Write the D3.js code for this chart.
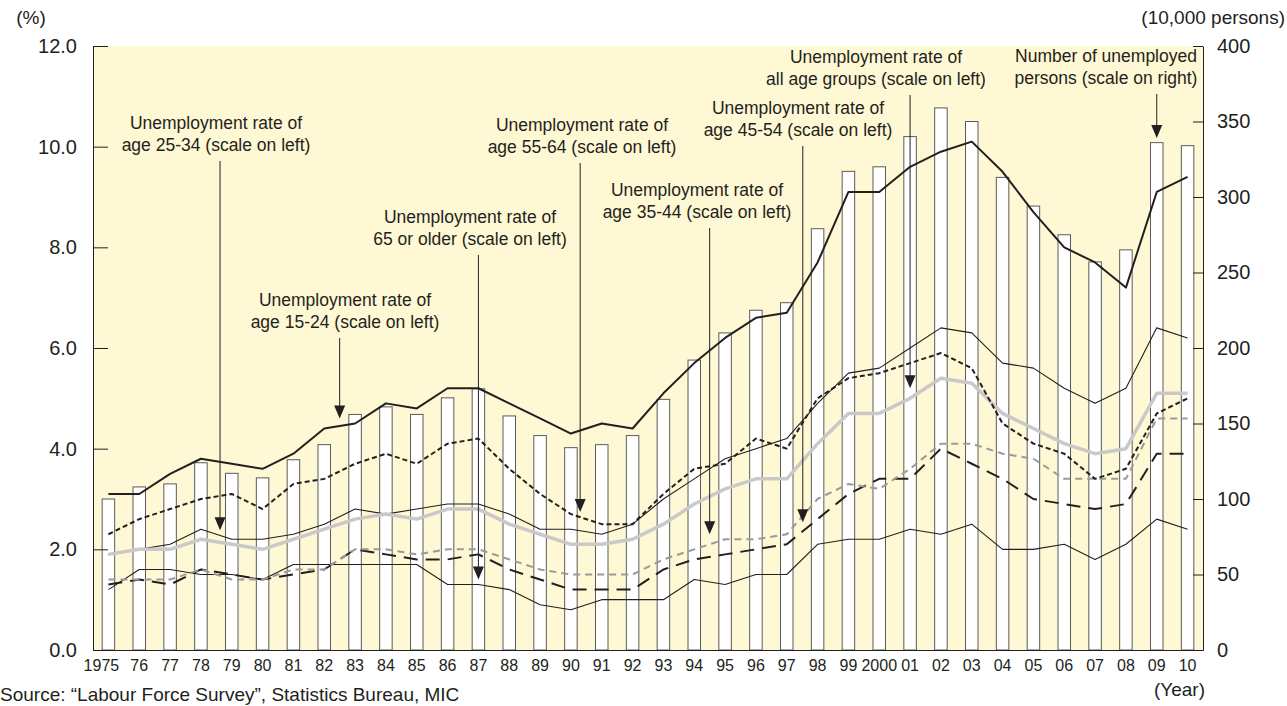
<!DOCTYPE html>
<html>
<head>
<meta charset="utf-8">
<script src="https://cdn.jsdelivr.net/npm/d3@7"></script>
<style>
  body { margin: 0; background: #fff; }
  svg { display: block; font-family: "Liberation Sans", Arial, Helvetica, sans-serif; }
  text { fill: #231f20; }
</style>
</head>
<body>
<svg id="chart" width="1287" height="706"></svg>
<script>
// data
const years = d3.range(1975, 2011);
const yearLabels = ['1975', '76', '77', '78', '79', '80', '81', '82', '83', '84', '85', '86', '87', '88', '89',
  '90', '91', '92', '93', '94', '95', '96', '97', '98', '99', '2000', '01', '02', '03', '04', '05', '06', '07',
  '08', '09', '10'];

// number of unemployed persons, 10,000 persons (right scale)
const unemployed = [100, 108, 110, 124, 117, 114, 126, 136, 156, 161, 156, 167, 173, 155, 142, 134, 136, 142,
  166, 192, 210, 225, 230, 279, 317, 320, 340, 359, 350, 313, 294, 275, 257, 265, 336, 334];

// unemployment rates, % (left scale)
const rateAll = [1.9, 2.0, 2.0, 2.2, 2.1, 2.0, 2.2, 2.4, 2.6, 2.7, 2.6, 2.8, 2.8, 2.5, 2.3, 2.1, 2.1, 2.2,
  2.5, 2.9, 3.2, 3.4, 3.4, 4.1, 4.7, 4.7, 5.0, 5.4, 5.3, 4.7, 4.4, 4.1, 3.9, 4.0, 5.1, 5.1];
const rate15to24 = [3.1, 3.1, 3.5, 3.8, 3.7, 3.6, 3.9, 4.4, 4.5, 4.9, 4.8, 5.2, 5.2, 4.9, 4.6, 4.3, 4.5, 4.4,
  5.1, 5.7, 6.2, 6.6, 6.7, 7.7, 9.1, 9.1, 9.6, 9.9, 10.1, 9.5, 8.7, 8.0, 7.7, 7.2, 9.1, 9.4];
const rate25to34 = [1.9, 2.0, 2.1, 2.4, 2.2, 2.2, 2.3, 2.5, 2.8, 2.7, 2.8, 2.9, 2.9, 2.7, 2.4, 2.4, 2.3, 2.5,
  3.0, 3.4, 3.8, 4.0, 4.2, 4.9, 5.5, 5.6, 6.0, 6.4, 6.3, 5.7, 5.6, 5.2, 4.9, 5.2, 6.4, 6.2];
const rate35to44 = [1.4, 1.4, 1.4, 1.6, 1.4, 1.4, 1.6, 1.6, 2.0, 2.0, 1.9, 2.0, 2.0, 1.8, 1.6, 1.5, 1.5, 1.5,
  1.8, 2.0, 2.2, 2.2, 2.3, 3.0, 3.3, 3.2, 3.6, 4.1, 4.1, 3.9, 3.8, 3.4, 3.4, 3.4, 4.6, 4.6];
const rate45to54 = [1.3, 1.4, 1.3, 1.6, 1.5, 1.4, 1.5, 1.6, 2.0, 1.9, 1.8, 1.8, 1.9, 1.6, 1.4, 1.2, 1.2, 1.2,
  1.6, 1.8, 1.9, 2.0, 2.1, 2.6, 3.1, 3.4, 3.4, 4.0, 3.7, 3.4, 3.0, 2.9, 2.8, 2.9, 3.9, 3.9];
const rate55to64 = [2.3, 2.6, 2.8, 3.0, 3.1, 2.8, 3.3, 3.4, 3.7, 3.9, 3.7, 4.1, 4.2, 3.6, 3.1, 2.7, 2.5, 2.5,
  3.1, 3.6, 3.7, 4.2, 4.0, 5.0, 5.4, 5.5, 5.7, 5.9, 5.6, 4.5, 4.1, 3.9, 3.4, 3.6, 4.7, 5.0];
const rate65plus = [1.2, 1.6, 1.6, 1.5, 1.5, 1.4, 1.7, 1.7, 1.7, 1.7, 1.7, 1.3, 1.3, 1.2, 0.9, 0.8, 1.0, 1.0,
  1.0, 1.4, 1.3, 1.5, 1.5, 2.1, 2.2, 2.2, 2.4, 2.3, 2.5, 2.0, 2.0, 2.1, 1.8, 2.1, 2.6, 2.4];

const leftTicks = [0, 2, 4, 6, 8, 10, 12];
const rightTicks = [0, 50, 100, 150, 200, 250, 300, 350, 400];

const plotLeft = 93, plotRight = 1203, plotTop = 46, plotBottom = 650;

const svg = d3.select('#chart');

const x = d3.scaleBand()
  .domain(years)
  .range([plotLeft, plotRight])
  .padding(0);
const xCenter = yr => x(yr) + x.bandwidth() / 2;
// fractional year position, for the pointer arrows
const xAt = yr => xCenter(years[0]) + (yr - years[0]) * x.step();

const yRate = d3.scaleLinear().domain([0, 12]).range([plotBottom, plotTop]);
const yCount = d3.scaleLinear().domain([0, 400]).range([plotBottom, plotTop]);

const barWidth = 12.5;

// plot background
svg.append('rect')
  .attr('x', plotLeft)
  .attr('y', plotTop)
  .attr('width', plotRight - plotLeft)
  .attr('height', plotBottom - plotTop)
  .attr('fill', '#fff8d4');

// bars
svg.append('g')
  .selectAll('rect')
  .data(unemployed)
  .join('rect')
  .attr('x', (d, i) => xCenter(years[i]) - barWidth / 2)
  .attr('y', d => yCount(d))
  .attr('width', barWidth)
  .attr('height', d => plotBottom - yCount(d))
  .attr('fill', '#fff')
  .attr('stroke', '#5a5a5a')
  .attr('stroke-width', 1);

// rate lines, drawn bottom to top
const series = [
  { values: rate65plus, color: '#231f20', width: 1.1, dash: null },
  { values: rate45to54, color: '#231f20', width: 2, dash: '14,8' },
  { values: rate35to44, color: '#9a9a9a', width: 2, dash: '7,5' },
  { values: rate25to34, color: '#231f20', width: 1.1, dash: null },
  { values: rateAll, color: '#c9c9c9', width: 3.5, dash: null },
  { values: rate55to64, color: '#231f20', width: 2, dash: '5,3' },
  { values: rate15to24, color: '#231f20', width: 2, dash: null }
];

const line = d3.line()
  .x((d, i) => xCenter(years[i]))
  .y(d => yRate(d));

svg.append('g')
  .selectAll('path')
  .data(series)
  .join('path')
  .attr('d', d => line(d.values))
  .attr('fill', 'none')
  .attr('stroke', d => d.color)
  .attr('stroke-width', d => d.width)
  .attr('stroke-dasharray', d => d.dash)
  .attr('stroke-linejoin', 'round');

// axes
const leftAxis = svg.append('g')
  .attr('transform', `translate(${plotLeft},0)`)
  .call(d3.axisLeft(yRate)
    .tickValues(leftTicks)
    .tickFormat(d3.format('.1f'))
    .tickSizeInner(-15)
    .tickSizeOuter(0)
    .tickPadding(16));

const rightAxis = svg.append('g')
  .attr('transform', `translate(${plotRight},0)`)
  .call(d3.axisRight(yCount)
    .tickValues(rightTicks)
    .tickSizeInner(-10)
    .tickSizeOuter(0)
    .tickPadding(14));

const bottomAxis = svg.append('g')
  .attr('transform', `translate(0,${plotBottom})`)
  .call(d3.axisBottom(x)
    .tickFormat((d, i) => yearLabels[i])
    .tickSize(0)
    .tickPadding(10));

[leftAxis, rightAxis].forEach(g => {
  g.selectAll('text').attr('font-size', 20).attr('fill', '#231f20');
  g.selectAll('line, path').attr('stroke', '#231f20');
});
bottomAxis.selectAll('text').attr('font-size', 16).attr('fill', '#231f20');
bottomAxis.select('.tick text').attr('dx', -7);
bottomAxis.select('.domain').attr('stroke', '#231f20');

// unit labels
svg.append('text')
  .attr('x', 31).attr('y', 24)
  .attr('text-anchor', 'middle')
  .attr('font-size', 19)
  .text('(%)');

svg.append('text')
  .attr('x', 1285).attr('y', 24)
  .attr('text-anchor', 'end')
  .attr('font-size', 19)
  .text('(10,000 persons)');

svg.append('text')
  .attr('x', 1205).attr('y', 696)
  .attr('text-anchor', 'end')
  .attr('font-size', 19)
  .text('(Year)');

svg.append('text')
  .attr('x', 0).attr('y', 701)
  .attr('font-size', 19)
  .text('Source: \u201cLabour Force Survey\u201d, Statistics Bureau, MIC');

// pointer notes: text block centre, leader x as a (fractional) year, tip on its scale
const notes = [
  { lines: ['Unemployment rate of', 'age 25-34 (scale on left)'], cx: 216, cy: 123, year: 1978.62, tip: yRate(2.38) },
  { lines: ['Unemployment rate of', 'age 15-24 (scale on left)'], cx: 345, cy: 300, year: 1982.5, tip: yRate(4.6) },
  { lines: ['Unemployment rate of', '65 or older (scale on left)'], cx: 470, cy: 217, year: 1987.0, tip: yRate(1.4) },
  { lines: ['Unemployment rate of', 'age 55-64 (scale on left)'], cx: 582, cy: 125, year: 1990.3, tip: yRate(2.74) },
  { lines: ['Unemployment rate of', 'age 35-44 (scale on left)'], cx: 697, cy: 190, year: 1994.5, tip: yRate(2.3) },
  { lines: ['Unemployment rate of', 'age 45-54 (scale on left)'], cx: 798, cy: 108, year: 1997.52, tip: yRate(2.54) },
  { lines: ['Unemployment rate of', 'all age groups (scale on left)'], cx: 876, cy: 57, year: 2001.0, tip: yRate(5.2) },
  { lines: ['Number of unemployed', 'persons (scale on right)'], cx: 1106, cy: 56, year: 2009.0, tip: yCount(339) }
];

const noteGroup = svg.append('g');

notes.forEach(n => {
  const g = noteGroup.append('g');
  const lx = xAt(n.year);

  g.selectAll('text')
    .data(n.lines)
    .join('text')
    .attr('x', n.cx)
    .attr('y', (d, i) => n.cy + 6 + i * 22)
    .attr('text-anchor', 'middle')
    .attr('font-size', 17.5)
    .text(d => d);

  g.append('line')
    .attr('x1', lx).attr('x2', lx)
    .attr('y1', n.cy + 38)
    .attr('y2', n.tip - 10)
    .attr('stroke', '#231f20')
    .attr('stroke-width', 1);

  g.append('path')
    .attr('d', `M${lx - 5.5},${n.tip - 13}L${lx + 5.5},${n.tip - 13}L${lx},${n.tip}Z`)
    .attr('fill', '#231f20');
});
</script>
</body>
</html>
